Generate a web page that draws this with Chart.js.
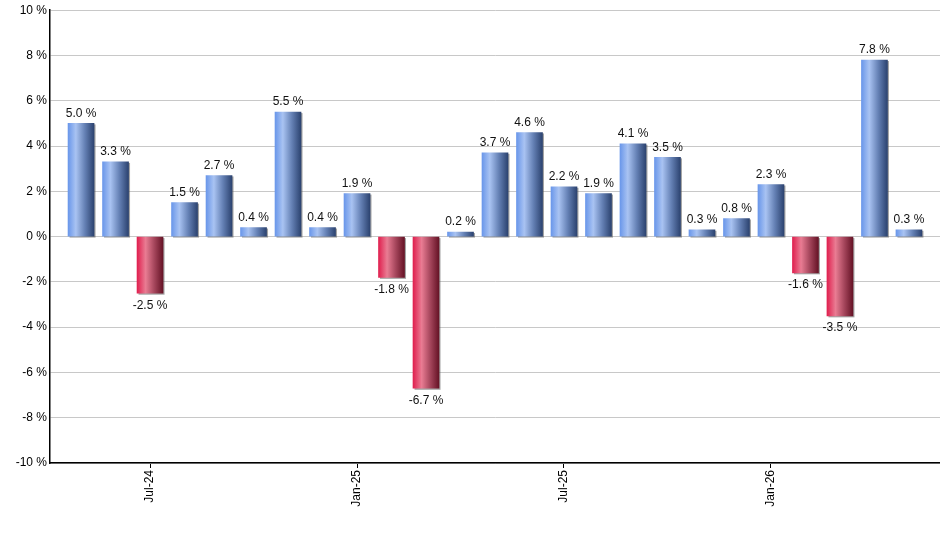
<!DOCTYPE html>
<html>
<head>
<meta charset="utf-8">
<script src="https://cdn.jsdelivr.net/npm/chart.js@4/dist/chart.umd.min.js"></script>
<style>
  html, body { margin: 0; padding: 0; background: #fff; }
  #wrap { width: 940px; height: 550px; }
</style>
</head>
<body>
<div id="wrap"><canvas id="grafico"></canvas></div>
<script>
// meses (mai/24 .. mai/26)
const months = [
  'May-24', 'Jun-24', 'Jul-24', 'Aug-24', 'Sep-24', 'Oct-24', 'Nov-24', 'Dec-24',
  'Jan-25', 'Feb-25', 'Mar-25', 'Apr-25', 'May-25', 'Jun-25', 'Jul-25', 'Aug-25',
  'Sep-25', 'Oct-25', 'Nov-25', 'Dec-25', 'Jan-26', 'Feb-26', 'Mar-26', 'Apr-26', 'May-26'
];
// retorno mensal em %
const returns = [
  5.0, 3.3, -2.5, 1.5, 2.7, 0.4, 5.5, 0.4,
  1.9, -1.8, -6.7, 0.2, 3.7, 4.6, 2.2, 1.9,
  4.1, 3.5, 0.3, 0.8, 2.3, -1.6, -3.5, 7.8, 0.3
];
// rótulos que aparecem no eixo x
const tickLabels = ['Jul-24', 'Jan-25', 'Jul-25', 'Jan-26'];
const yTicks = [-10, -8, -6, -4, -2, 0, 2, 4, 6, 8, 10];

const BAR_W = 26;

function barGradient(context) {
  const chart = context.chart;
  const xScale = chart.scales.x;
  const positive = context.raw && context.raw.y >= 0;
  const fallback = positive ? '#7aa0e8' : '#c83a5a';
  if (!xScale || !context.raw || !chart.chartArea) return fallback;
  const cx = xScale.getPixelForValue(context.raw.x);
  if (!Number.isFinite(cx)) return fallback;
  const g = chart.ctx.createLinearGradient(cx - BAR_W / 2, 0, cx + BAR_W / 2, 0);
  if (positive) {
    g.addColorStop(0, '#6a97ea');
    g.addColorStop(0.3, '#a9c3f2');
    g.addColorStop(0.65, '#6480b4');
    g.addColorStop(1, '#2c4370');
  } else {
    g.addColorStop(0, '#e0204f');
    g.addColorStop(0.33, '#e97c93');
    g.addColorStop(0.65, '#a8485e');
    g.addColorStop(1, '#661326');
  }
  return g;
}

// sombra cinza atrás das barras
const barShadow = {
  id: 'barShadow',
  beforeDatasetsDraw(chart) {
    const ctx = chart.ctx;
    const meta = chart.getDatasetMeta(0);
    ctx.save();
    ctx.fillStyle = 'rgba(90,90,90,0.55)';
    meta.data.forEach(bar => {
      const top = Math.min(bar.y, bar.base);
      const h = Math.abs(bar.base - bar.y);
      ctx.fillRect(bar.x - BAR_W / 2 + 1.5, top + 1, BAR_W, h + 0.5);
    });
    ctx.restore();
  }
};

// valores em cima / embaixo das barras
const valueLabels = {
  id: 'valueLabels',
  afterDatasetsDraw(chart) {
    const ctx = chart.ctx;
    const meta = chart.getDatasetMeta(0);
    ctx.save();
    ctx.font = '12px "Liberation Sans", Arial, sans-serif';
    ctx.fillStyle = '#111';
    ctx.textAlign = 'center';
    meta.data.forEach((bar, i) => {
      const v = returns[i];
      const txt = v.toFixed(1) + ' %';
      if (v >= 0) {
        ctx.textBaseline = 'bottom';
        ctx.fillText(txt, bar.x, bar.y - 4);
      } else {
        ctx.textBaseline = 'top';
        ctx.fillText(txt, bar.x, bar.y + 6);
      }
    });
    ctx.restore();
  }
};

const ctx = document.getElementById('grafico');

new Chart(ctx, {
  type: 'bar',
  data: {
    datasets: [{
      data: returns.map((v, i) => ({ x: i, y: v })),
      backgroundColor: barGradient,
      borderWidth: 0,
      barThickness: BAR_W
    }]
  },
  options: {
    responsive: true,
    maintainAspectRatio: false,
    animation: false,
    layout: { padding: { top: 4, right: 0, left: 0, bottom: 0 } },
    plugins: {
      legend: { display: false },
      tooltip: { enabled: false }
    },
    scales: {
      x: {
        type: 'linear',
        min: -0.9,
        max: 24.9,
        offset: false,
        afterBuildTicks(axis) {
          axis.ticks = tickLabels.map(t => ({ value: months.indexOf(t) }));
        },
        afterFit(axis) { axis.height = 87; },
        ticks: {
          autoSkip: false,
          minRotation: 90,
          maxRotation: 90,
          padding: 2,
          color: '#000',
          font: { size: 12, family: '"Liberation Sans", Arial, sans-serif' },
          callback: v => months[v] || ''
        },
        grid: {
          offset: false,
          drawOnChartArea: false,
          drawTicks: true,
          tickLength: 5,
          color: '#000'
        },
        border: { display: true, color: '#000', width: 1.5 }
      },
      y: {
        min: -10,
        max: 10,
        afterBuildTicks(axis) {
          axis.ticks = yTicks.map(v => ({ value: v }));
        },
        afterFit(axis) { axis.width = 50; },
        ticks: {
          padding: 3,
          color: '#000',
          font: { size: 12, family: '"Liberation Sans", Arial, sans-serif' },
          callback: v => v + ' %'
        },
        grid: {
          color: '#c8c8c8',
          lineWidth: 1,
          drawTicks: false
        },
        border: { display: true, color: '#000', width: 1.5 }
      }
    }
  },
  plugins: [barShadow, valueLabels]
});
</script>
</body>
</html>
